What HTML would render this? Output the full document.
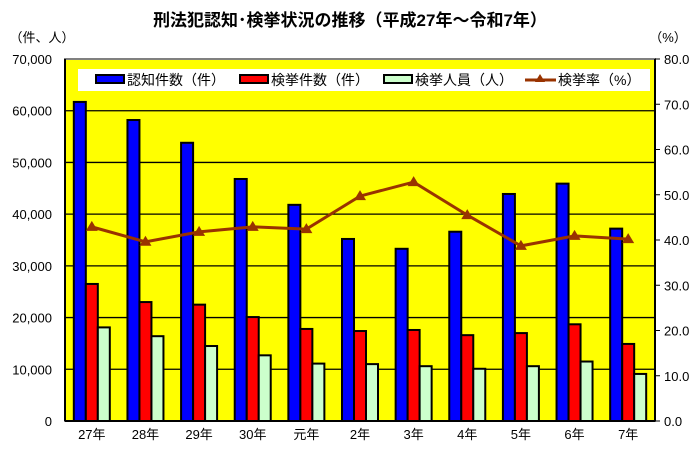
<!DOCTYPE html>
<html><head><meta charset="utf-8"><style>
body{margin:0;background:#fff;width:700px;height:450px;overflow:hidden}
svg text{font-family:"Liberation Sans","Noto Sans CJK JP",sans-serif;}
</style></head><body>
<svg id="s" width="700" height="450" xmlns="http://www.w3.org/2000/svg">
<text x="350" y="26" text-anchor="middle" font-size="17" font-weight="bold" fill="#000">刑法犯認知･検挙状況の推移（平成27年～令和7年）</text>
<text x="42" y="42" text-anchor="middle" font-size="13">（件、人）</text>
<text x="668" y="42" text-anchor="middle" font-size="13">（%）</text>
<g id="g"></g>
</svg>
<script>
const L=65,R=655,T=59,B=421,W=R-L,H=B-T;
const blue=[61700,58200,53800,46800,41800,35200,33300,36600,43900,45900,37200];
const red=[26500,23000,22500,20100,17800,17400,17600,16600,17000,18700,14900];
const grn=[18100,16400,14500,12700,11100,11000,10600,10100,10600,11500,9100];
const rate=[42.9,39.6,41.8,42.9,42.4,49.7,52.8,45.5,38.7,40.9,40.2];
const labs=["27年","28年","29年","30年","元年","2年","3年","4年","5年","6年","7年"];
let s=`<rect x="${L}" y="${T}" width="${W}" height="${H}" fill="#ffff00" stroke="#808080" stroke-width="2"/>`;
for(let i=0;i<=7;i++){const y=B-i*H/7;
 if(i>0&&i<7)s+=`<line x1="${L}" x2="${R}" y1="${y}" y2="${y}" stroke="#000" stroke-width="1.3"/>`;
 s+=`<text x="52" y="${y+5}" text-anchor="end" font-size="13">${i==0?"0":(i*10)+",000"}</text>`;}
for(let i=0;i<=8;i++){const y=B-i*H/8;
 s+=`<line x1="${R}" x2="${R+5}" y1="${y}" y2="${y}" stroke="#000"/>`;
 s+=`<text x="664" y="${y+5}" font-size="13">${(i*10)}.0</text>`;}
s+=`<line x1="${L}" x2="${L}" y1="${T}" y2="${B}" stroke="#000" stroke-width="2"/><line x1="${R}" x2="${R}" y1="${T}" y2="${B}" stroke="#000" stroke-width="2"/><line x1="${L}" x2="${R}" y1="${B}" y2="${B}" stroke="#000" stroke-width="2"/>`;
const cw=W/11,bw=12;
const yv=v=>B-v/70000*H;
let pts=[];
for(let i=0;i<11;i++){const c=L+cw*(i+.5);
 [[blue,"#0000ff"],[red,"#ff0000"],[grn,"#ccffcc"]].forEach((a,k)=>{const x=c-18+k*bw,y=yv(a[0][i]);
  s+=`<rect x="${x}" y="${y}" width="${bw}" height="${B-y}" fill="${a[1]}" stroke="#000" stroke-width="2"/>`;});
 pts.push([c,B-rate[i]/80*H]);
 s+=`<text x="${c}" y="439" text-anchor="middle" font-size="13">${labs[i]}</text>`;}
s+=`<polyline points="${pts.map(p=>p.join(",")).join(" ")}" fill="none" stroke="#993300" stroke-width="3"/>`;
pts.forEach(p=>{s+=`<polygon points="${p[0]},${p[1]-6} ${p[0]-6},${p[1]+4} ${p[0]+6},${p[1]+4}" fill="#993300"/>`;});
s+=`<rect x="78" y="69" width="572" height="22" fill="#fff"/>`;
const lg=[[96,"#0000ff","認知件数（件）"],[240,"#ff0000","検挙件数（件）"],[384,"#ccffcc","検挙人員（人）"]];
lg.forEach(l=>{s+=`<rect x="${l[0]}" y="75" width="28" height="8" fill="${l[1]}" stroke="#000" stroke-width="2"/><text x="${l[0]+31}" y="85" font-size="14">${l[2]}</text>`;});
s+=`<line x1="525" x2="556" y1="80" y2="80" stroke="#993300" stroke-width="3"/><polygon points="540,74 535,82 545,82" fill="#993300"/><text x="558" y="85" font-size="14">検挙率（%）</text>`;
document.getElementById("g").innerHTML=s;
</script>
</body></html>
